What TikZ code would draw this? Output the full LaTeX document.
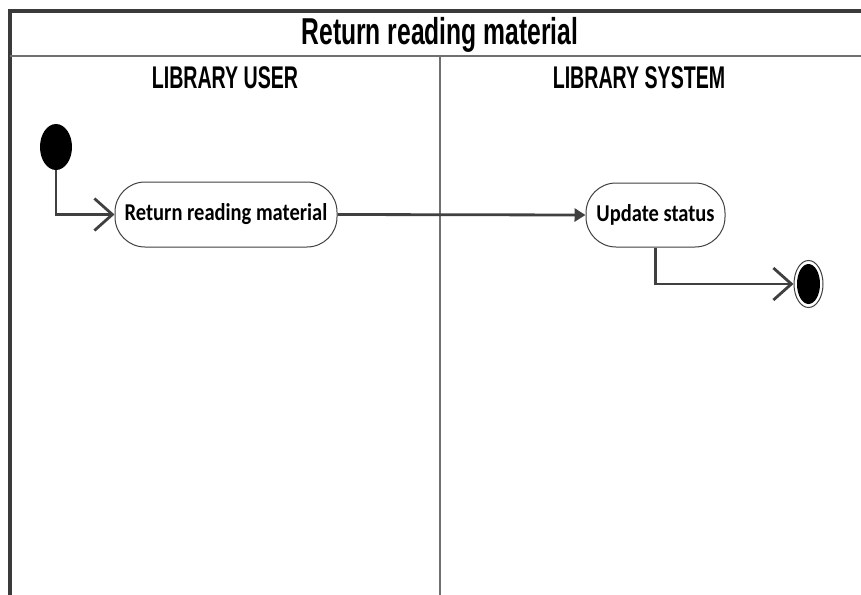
\documentclass[tikz,border=0pt]{standalone}
\usepackage{fontspec}
\setmainfont{Liberation Sans}
\newfontfamily\actfont{Carlito}
\usetikzlibrary{arrows.meta,shapes.geometric}
\definecolor{lineg}{HTML}{404040}
\definecolor{frameg}{HTML}{3A3A3A}
\definecolor{sepg}{HTML}{707070}
\tikzset{
  x=1pt, y=-1pt,
  action/.style={draw=lineg, line width=1pt, rounded corners=30pt, fill=white,
    inner sep=0pt},
  acttext/.style={font=\actfont\bfseries\fontsize{20.5}{24}\selectfont, yscale=1.18},
  flow/.style={draw=lineg, line width=2.8pt, -{Straight Barb[length=18pt,width=32pt,line width=2.8pt]}},
  flowfill/.style={draw=lineg, line width=2.8pt, -{Triangle[length=11pt,width=13pt]}},
  titletext/.style={font=\bfseries\fontsize{36}{40}\selectfont, xscale=0.685, yscale=1.04},
  lanetext/.style={font=\bfseries\fontsize{28}{32}\selectfont, xscale=0.70, yscale=1.12},
}
\begin{document}
\begin{tikzpicture}
\useasboundingbox (0,0) rectangle (861,594);
% frame
\draw[frameg, line width=4.5pt] (10,598) -- (10,11) -- (870,11);
\draw[sepg, line width=1.8pt] (10,56) -- (870,56);
\draw[sepg, line width=1.5pt] (440,56) -- (440,600);
% texts
\node[titletext] (title) at (440,35) {Return reading material};
\node[lanetext] (lane1) at (225,78) {LIBRARY USER};
\node[lanetext] (lane2) at (639,78) {LIBRARY SYSTEM};
% nodes
\node[fill=black, ellipse, minimum width=32pt, minimum height=46pt, inner sep=0pt] (start) at (56,147) {};
\node[action, minimum width=222pt, minimum height=65pt] (a1) at (226,214.5) {};
\node[acttext] (t1) at (a1.center) {Return reading material};
\node[action, minimum width=139pt, minimum height=64pt] (a2) at (655.5,215) {};
\node[acttext] (t2) at (a2.center) {Update status};
\node[draw=lineg, line width=1pt, fill=white, ellipse, minimum width=29pt, minimum height=47pt, inner sep=0pt] (end) at (808.5,284) {};
\node[fill=black, ellipse, minimum width=23pt, minimum height=40pt, inner sep=0pt] (endin) at (end.center) {};
% connectors
\draw[flow] (start.south) |- (a1.west);
\draw[flowfill] (a1.east) -- (a2.west);
\draw[flow] (a2.south) |- (end.west);
\end{tikzpicture}
\end{document}
